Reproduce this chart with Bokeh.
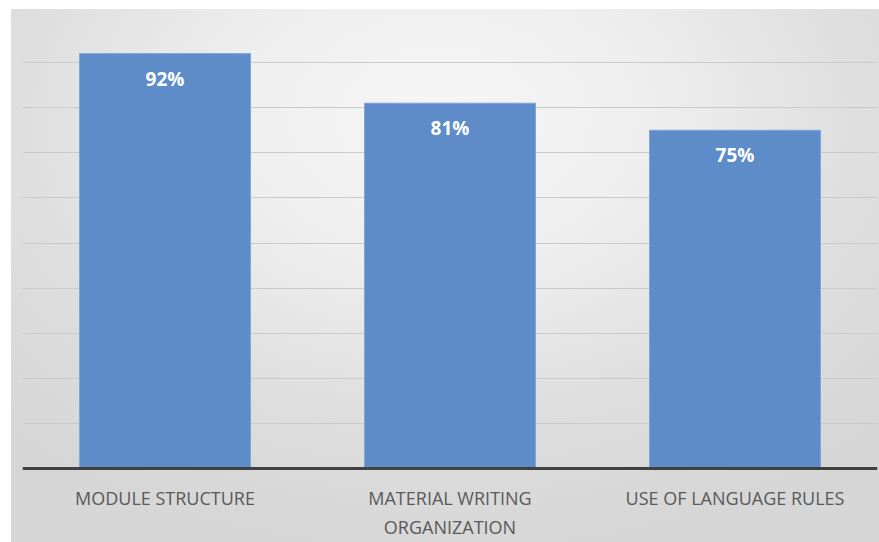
from bokeh.plotting import figure
from bokeh.models import (ColumnDataSource, Range1d, FixedTicker, InlineStyleSheet,
                          GlobalInlineStyleSheet, Span)
from bokeh.core.properties import value
from bokeh.embed import file_html
from bokeh.resources import INLINE

categories = ["MODULE STRUCTURE", "MATERIAL WRITING ORGANIZATION", "USE OF LANGUAGE RULES"]
tick_labels = ["MODULE STRUCTURE", "MATERIAL WRITING\nORGANIZATION", "USE OF LANGUAGE RULES"]
values = [92, 81, 75]
labels = [f"{v}%" for v in values]
grid_ticks = list(range(10, 101, 10))

src = ColumnDataSource(dict(cat=categories, val=values, lab=labels,
                            tick=tick_labels, base=[0] * len(categories)))

# frame extends below the zero line so category labels sit in the frame
p = figure(x_range=categories, y_range=Range1d(-16.4, 100), width=879, height=542,
           output_backend="svg", toolbar_location=None,
           min_border_left=22, min_border_right=2, min_border_top=17, min_border_bottom=0)

p.stylesheets = [
    InlineStyleSheet(css="""
:host {
  background:
    linear-gradient(#ffffff, #ffffff) left top / 11px 100% no-repeat,
    linear-gradient(#ffffff, #ffffff) left top / 100% 9px no-repeat,
    radial-gradient(ellipse 70% 80% at 50% 22%, #f6f6f6 0%, #eeeeee 35%, #dedede 70%, #d6d6d6 100%);
}
"""),
    GlobalInlineStyleSheet(css="html, body { margin: 0; padding: 0; overflow: hidden; background: #d7d7d7; }"),
]

p.background_fill_color = None
p.border_fill_color = None
p.outline_line_color = None
p.xaxis.visible = False
p.yaxis.visible = False

p.ygrid.ticker = FixedTicker(ticks=grid_ticks)
p.ygrid.grid_line_color = "#cacaca"
p.ygrid.grid_line_width = 1
p.xgrid.grid_line_color = None

p.vbar(x="cat", top="val", bottom=0, width=0.6, source=src, fill_color="#5D8CC8",
       line_color="#7FA6D8", line_width=1)

p.add_layout(Span(location=0, dimension="width", line_color="#404040", line_width=3))

p.text(x="cat", y="val", text="lab", source=src, y_offset=25,
       text_align="center", text_baseline="middle", text_color="white",
       text_font=value("Open Sans"), text_font_style="bold", text_font_size="19px")

p.text(x="cat", y="base", text="tick", source=src, y_offset=17,
       text_align="center", text_baseline="top", text_color="#595959",
       text_font=value("Open Sans"), text_font_size="18px", text_line_height=1.22)

open("out.html", "w").write(file_html(p, INLINE))
